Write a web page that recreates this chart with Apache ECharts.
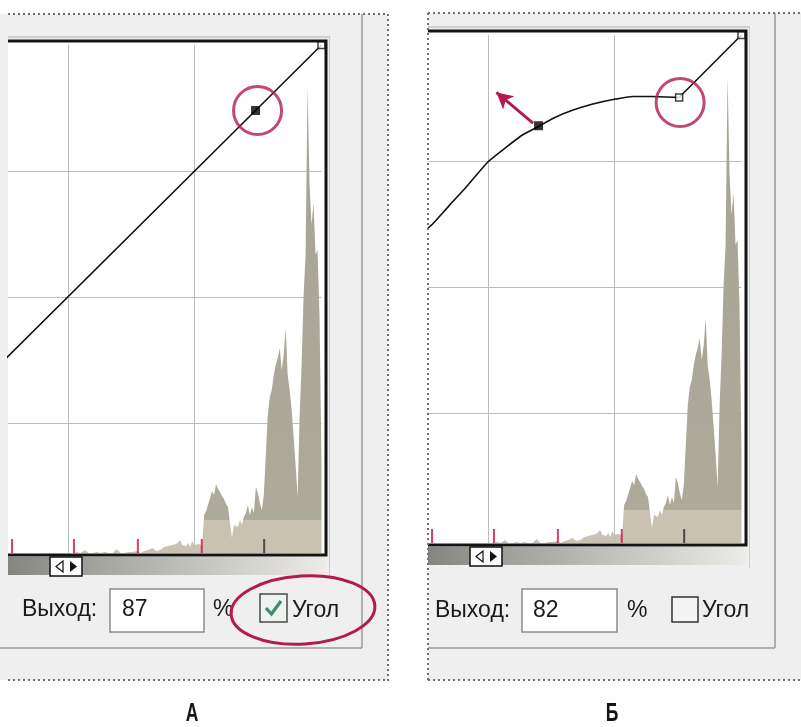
<!DOCTYPE html>
<html><head><meta charset="utf-8">
<script src="https://cdn.jsdelivr.net/npm/echarts@6/dist/echarts.min.js"></script>
<style>html,body{margin:0;padding:0;background:#fff}#c{width:801px;height:727px}</style>
</head><body><div id="c"></div>
<script>
// ---------- data ----------
const visibleInput = [38.2, 100];          // visible part of the input axis (%)
const gridPercents = [25, 50, 75];         // grid lines (%)
const histStartLevel = 128;                // first histogram level listed
const histCounts = [
  0,0,0,0,1,0,0,1, 3,1,0,0,0,0,1,0, 0,0,1,0,0,1,0,2, 4,2,0,1,0,0,1,0,
  1,0,2,1,0,1,2,4, 3,2,5,3,2,4,3,5, 6,4,7,5,8,6,9,11, 13,8,9,7,10,6,12,8,
  6,9,10,8,
  38,42,41,55,62,58,69,64,61,57, 54,49,46,30,15,28,30,26,33,28, 36,40,48,38,46,40,66,60,50,
  43,58,98,138,156,163,178,188,195,205, 183,198,225,178,163,143,116,88,56,138,
  188,258,298,466,368,328,350,298,303,238, 90
];
const markerPercents = [39.0, 51.2, 63.8, 76.4, 88.7];
const curveA = [[0,0],[87,87],[100,100]];
const selectedA = [87, 87];
const cornerPoint = [100, 100];
const curveBBend = [[38.2,61.7],[39.2,62.6],[42.5,66.3],[45.8,69.9],[50.1,74.9],[53.7,77.8],
  [56.9,80.2],[59.9,81.8],[62.9,83.5],[66.8,85.1],[70.7,86.3],[74.7,87.2],[78.6,87.8],
  [82.5,87.8],[87.7,87.6]];
const curveBStraight = [[87.7,87.6],[100,100]];
const selectedB = [60, 82];
const otherB = [87.7, 87.6];
const arrowB = [[58.9, 82.5], [51.7, 88.6]];
const txt = {out: 'Выход:', pct: '%', corner: 'Угол', a: 'А', b: 'Б'};

// ---------- chart ----------
const chart = echarts.init(document.getElementById('c'), null, {renderer: 'canvas'});
const histData = histCounts.map((c, i) => [(histStartLevel + i) * 100 / 255, c]);
const RED = '#b31b4d';
const histFill = new echarts.graphic.LinearGradient(0, 0, 0, 1, [
  {offset: 0, color: '#a7a495'}, {offset: 0.928, color: '#aeaa9b'},
  {offset: 0.93, color: '#c9c1b2'}, {offset: 1, color: '#c9c1b2'}]);

const panels = [
  {left: 8, top: 45, curves: [{data: curveA, smooth: false}], sel: selectedA, other: null,
   circleAt: selectedA, circleOff: [2, 0], arrow: null},
  {left: 428, top: 35, curves: [{data: curveBBend, smooth: 0.2}, {data: curveBStraight, smooth: false}],
   sel: selectedB, other: otherB, circleAt: otherB, circleOff: [1, 5], arrow: arrowB}
];

const grids = [], xAxes = [], yAxes = [], series = [];
panels.forEach((p, pi) => {
  const h = pi * 2, c = pi * 2 + 1;
  grids.push({left: p.left, top: p.top, width: 313.5, height: 508, show: false});
  grids.push({left: p.left, top: p.top, width: 313.5, height: 504, show: false});
  xAxes.push({type: 'value', gridIndex: h, min: visibleInput[0], max: visibleInput[1], show: false});
  xAxes.push({type: 'value', gridIndex: c, min: visibleInput[0], max: visibleInput[1], show: false});
  yAxes.push({type: 'value', gridIndex: h, min: 0, max: 508, show: false});
  yAxes.push({type: 'value', gridIndex: c, min: 0, max: 100, interval: 25,
    axisLine: {show: false}, axisTick: {show: false}, axisLabel: {show: false},
    splitLine: {show: true, showMinLine: false, showMaxLine: false, lineStyle: {color: '#bcbcbc', width: 1}}});
  series.push({type: 'line', xAxisIndex: h, yAxisIndex: h, data: histData, symbol: 'none', showSymbol: false,
    lineStyle: {width: 0}, areaStyle: {color: histFill, opacity: 1}, z: 2, silent: true,
    markLine: {silent: true, symbol: ['none', 'none'], label: {show: false},
      lineStyle: {type: 'solid', color: '#bcbcbc', width: 1},
      data: gridPercents.filter(g => g > visibleInput[0]).map(g => ({xAxis: g}))}});
  series.push({type: 'scatter', xAxisIndex: h, yAxisIndex: h, silent: true, clip: false, z: 3,
    data: markerPercents.map((m, i) => ({value: [m, 0], itemStyle: {color: i < 4 ? '#c8103f' : '#2a2a2a'}})),
    symbol: 'rect', symbolSize: [2, 14], symbolOffset: [0, -7]});
  p.curves.forEach(cv => series.push({type: 'line', xAxisIndex: c, yAxisIndex: c, data: cv.data,
    symbol: 'none', showSymbol: false, smooth: cv.smooth, lineStyle: {color: '#111', width: 1.6}, z: 5, silent: true}));
  series.push({type: 'scatter', xAxisIndex: c, yAxisIndex: c, data: [p.sel], symbol: 'rect', symbolSize: 9,
    itemStyle: {color: '#000'}, z: 7, clip: false, silent: true,
    markLine: p.arrow ? {silent: true, label: {show: false}, symbol: ['none', 'arrow'], symbolSize: [13, 16],
      lineStyle: {type: 'solid', color: RED, width: 3},
      data: [[{coord: p.arrow[0]}, {coord: p.arrow[1]}]]} : undefined});
  series.push({type: 'scatter', xAxisIndex: c, yAxisIndex: c, data: [cornerPoint].concat(p.other ? [p.other] : []),
    symbol: 'rect', symbolSize: 7, itemStyle: {color: '#fff', borderColor: '#111', borderWidth: 1.5},
    z: 7, clip: false, silent: true});
  series.push({type: 'scatter', xAxisIndex: c, yAxisIndex: c, data: [p.circleAt], symbol: 'circle', symbolSize: 48,
    symbolOffset: p.circleOff, itemStyle: {color: 'rgba(0,0,0,0)', borderColor: RED, borderWidth: 3},
    z: 8, clip: false, silent: true});
});

// ---------- dialog chrome ----------
const G = [];
const rect = (x, y, w, h, style, z) => G.push({type: 'rect', shape: {x, y, width: w, height: h}, style, z: z ?? 50, silent: true});
const line = (x1, y1, x2, y2, style, z) => G.push({type: 'line', shape: {x1, y1, x2, y2}, style, z: z ?? 50, silent: true});
const poly = (pts, style, z, type) => G.push({type: type || 'polyline', shape: {points: pts}, style, z: z ?? 50, silent: true});
const text = (s, x, y, size, extra) => G.push(Object.assign({type: 'text', x, y, silent: true, z: 60,
  style: Object.assign({text: s, fill: '#1a1a1a', font: size + 'px "Liberation Sans", Arial, sans-serif',
    textVerticalAlign: 'middle', verticalAlign: 'middle'}, (extra && extra.style) || {})}, extra && extra.el || {}));
const dotted = {stroke: '#6e6e6e', lineWidth: 2, lineDash: [2, 3]};

[[0, 0, 0], [420, -10, 1]].forEach(([dx, dy, k]) => {
  if (k === 0) rect(0, 14, 388, 666, {fill: '#efefef'}, -100);
  else rect(428, 13, 373, 667, {fill: '#efefef'}, -100);
  rect(8 + dx, 41 + dy, 318, 514, {fill: '#ffffff'}, -90);
  line(8 + dx, 37 + dy, 330 + dx, 37 + dy, {stroke: '#cfcfcf', lineWidth: 2}, -80);
  line(329.5 + dx, 36 + dy, 329.5 + dx, 578 + dy, {stroke: '#cdcdcd', lineWidth: 1}, -80);
  poly([[8 + dx, 41 + dy], [326 + dx, 41 + dy], [326 + dx, 555 + dy], [8 + dx, 555 + dy]],
    {stroke: '#141414', lineWidth: 3, fill: null}, 40);
  rect(8 + dx, 557 + dy, 318, 18, {fill: new echarts.graphic.LinearGradient(0, 0, 1, 0,
    [{offset: 0, color: '#858580'}, {offset: 0.15, color: '#979791'}, {offset: 1, color: '#ecebe7'}])}, 40);
  rect(50 + dx, 557 + dy, 32, 19, {fill: '#fbfbfb', stroke: '#111', lineWidth: 1.5}, 41);
  poly([[63 + dx, 561 + dy], [63 + dx, 572 + dy], [56 + dx, 566.5 + dy]], {fill: '#fff', stroke: '#111', lineWidth: 1.2}, 42, 'polygon');
  poly([[70 + dx, 561 + dy], [70 + dx, 572 + dy], [77 + dx, 566.5 + dy]], {fill: '#111'}, 42, 'polygon');
});
line(362, 14, 362, 648, {stroke: '#9a9a9a', lineWidth: 1.5}, -70);
line(0, 648, 362, 648, {stroke: '#9a9a9a', lineWidth: 1.5}, -70);
line(775, 13, 775, 648, {stroke: '#9a9a9a', lineWidth: 1.5}, -70);
line(428, 648, 775, 648, {stroke: '#9a9a9a', lineWidth: 1.5}, -70);
line(8, 14, 388, 14, dotted, 55);
line(388, 14, 388, 681, dotted, 55);
line(8, 680, 388, 680, dotted, 55);
line(428, 13, 801, 13, dotted, 55);
line(428, 13, 428, 681, dotted, 55);
line(428, 680, 801, 680, dotted, 55);
rect(110, 589, 94, 43, {fill: '#ffffff', stroke: '#8c8c8c', lineWidth: 1.5}, 45);
rect(522, 589, 95, 43, {fill: '#ffffff', stroke: '#8c8c8c', lineWidth: 1.5}, 45);
rect(260, 594, 27, 28, {fill: '#eef3ef', stroke: '#4a4a4a', lineWidth: 1.5}, 45);
poly([[266, 608], [271.5, 614], [281, 601]], {stroke: '#3d8c6e', lineWidth: 3.2, fill: null}, 46);
rect(672, 597, 26, 25, {fill: '#f4f4f4', stroke: '#333', lineWidth: 1.5}, 45);
text(txt.out, 22, 610, 23);
text(String(selectedA[1]), 122, 610, 23);
text(txt.pct, 213, 610, 23);
text(txt.corner, 292, 611, 23);
text(txt.out, 435, 611, 23);
text(String(selectedB[1]), 533, 611, 23);
text(txt.pct, 627, 611, 23);
text(txt.corner, 702, 611, 23);
const labelStyle = {style: {textAlign: 'center', align: 'center', fill: '#151515',
  font: '600 25px "Liberation Sans", Arial, sans-serif'}, el: {scaleX: 0.7, originX: 0, originY: 0}};
text(txt.a, 192, 714, 25, labelStyle);
text(txt.b, 612, 714, 25, labelStyle);
G.push({type: 'ellipse', x: 303, y: 610, rotation: 0.06, shape: {cx: 0, cy: 0, rx: 72, ry: 34},
  style: {fill: null, stroke: RED, lineWidth: 3}, z: 70, silent: true});

chart.setOption({
  animation: false,
  backgroundColor: '#ffffff',
  grid: grids, xAxis: xAxes, yAxis: yAxes, series,
  graphic: {elements: G}
});
</script></body></html>
